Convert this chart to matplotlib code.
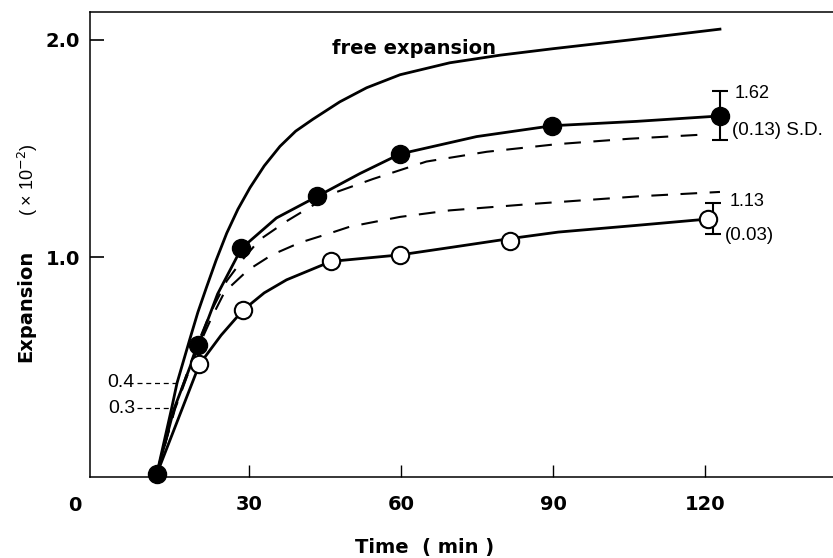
import matplotlib
matplotlib.use('Agg')
import matplotlib.pyplot as plt
import matplotlib.transforms as mtransforms

plt.rcParams['font.family'] = ['Liberation Sans', 'DejaVu Sans']
BOLD = ['DejaVu Sans']

# measured points (time in min, expansion x10^-2)
filled_t = [11.8, 20.0, 28.5, 43.5, 59.8, 89.8, 122.9]
filled_y = [0.0, 0.595, 1.04, 1.28, 1.475, 1.605, 1.65]
open_t = [20.2, 28.8, 46.2, 59.8, 81.5, 120.5]
open_y = [0.505, 0.755, 0.98, 1.01, 1.075, 1.175]

# final S.D. bars (lower, upper)
filled_err = [0.11, 0.115]
open_err = [0.07, 0.075]

# curves
free_t = [11.8, 14.7, 15.8, 18.3, 19.9, 21.6, 23.5, 25.6, 27.8, 30.2, 33.0, 36.1, 39.2, 42.6,
          47.9, 53.2, 59.8, 69.6, 79.5, 90.0, 105.0, 122.9]
free_y = [0.0, 0.30, 0.42, 0.62, 0.745, 0.86, 0.985, 1.11, 1.22, 1.32, 1.42, 1.51, 1.58, 1.635,
          1.715, 1.78, 1.84, 1.895, 1.93, 1.96, 2.0, 2.05]

filled_curve_t = [11.8, 15.2, 20.0, 23.8, 28.5, 35.4, 43.5, 51.9, 59.8, 74.9, 89.8, 106.4, 122.9]
filled_curve_y = [0.0, 0.30, 0.595, 0.83, 1.04, 1.18, 1.28, 1.385, 1.475, 1.555, 1.605, 1.625, 1.65]

open_curve_t = [11.8, 20.2, 24.5, 28.8, 33.0, 37.4, 46.2, 59.8, 70.0, 81.5, 91.0, 106.0, 120.5]
open_curve_y = [0.0, 0.505, 0.64, 0.755, 0.835, 0.895, 0.98, 1.01, 1.045, 1.085, 1.115, 1.145, 1.175]

dash_hi_t = [11.8, 15.3, 19.5, 22.3, 25.6, 28.8, 32.1, 37.4, 42.0, 47.3, 54.5, 65.0, 76.9, 90.7, 105.0, 120.2]
dash_hi_y = [0.0, 0.30, 0.58, 0.74, 0.89, 0.99, 1.08, 1.165, 1.23, 1.30, 1.36, 1.44, 1.485, 1.52, 1.545, 1.565]

dash_lo_t = [11.8, 15.4, 19.5, 22.6, 25.2, 29.8, 34.5, 40.0, 46.0, 49.9, 59.8, 69.6, 86.0, 107.0, 122.9]
dash_lo_y = [0.0, 0.30, 0.56, 0.72, 0.84, 0.94, 1.01, 1.066, 1.11, 1.14, 1.185, 1.215, 1.245, 1.28, 1.30]

x_ticks = [30, 60, 90, 120]
y_ticks = [1.0, 2.0]
guide_levels = [0.42, 0.303]
guide_labels = ['0.4', '0.3']
guide_ends = [15.7, 14.7]

fig = plt.figure(figsize=(8.33, 5.58), dpi=100)
ax = fig.add_axes([0.108, 0.145, 0.892, 0.8335])

ax.plot(free_t, free_y, '-', color='black', lw=2)
ax.plot(filled_curve_t, filled_curve_y, '-', color='black', lw=2)
ax.plot(open_curve_t, open_curve_y, '-', color='black', lw=2)
ax.plot(dash_hi_t, dash_hi_y, color='black', lw=1.5, dashes=(8, 6))
ax.plot(dash_lo_t, dash_lo_y, color='black', lw=1.5, dashes=(8, 6))

ax.errorbar(filled_t[-1], filled_y[-1], yerr=[[filled_err[0]], [filled_err[1]]],
            fmt='none', ecolor='black', elinewidth=1.5, capsize=6, capthick=1.5)
ax.errorbar(open_t[-1] + 1, open_y[-1], yerr=[[open_err[0]], [open_err[1]]],
            fmt='none', ecolor='black', elinewidth=1.5, capsize=6, capthick=1.5)

ax.plot(open_t, open_y, 'o', ms=12.5, mfc='white', mec='black', mew=1.5, zorder=5)
ax.plot(filled_t, filled_y, 'o', ms=13, color='black', clip_on=False, zorder=6)

for lvl, lab, xe in zip(guide_levels, guide_labels, guide_ends):
    ax.plot([7.9, xe], [lvl, lvl], color='black', lw=0.9, dashes=(4, 3))
    ax.text(7.5, lvl, lab, ha='right', va='center', fontsize=14)

ax.text(62.5, 1.96, 'free expansion', ha='center', va='center',
        fontsize=14, fontweight='bold', family=BOLD)

ax.text(125.8, 1.755, '1.62', ha='left', va='center', fontsize=13)
ax.text(125.2, 1.585, '(0.13) S.D.', ha='left', va='center', fontsize=13.5)
ax.text(124.8, 1.255, '1.13', ha='left', va='center', fontsize=13)
ax.text(123.9, 1.10, '(0.03)', ha='left', va='center', fontsize=13.5)

ax.spines['right'].set_visible(False)
for s in ['left', 'top', 'bottom']:
    ax.spines[s].set_linewidth(1.1)

ax.set_xticks(x_ticks)
ax.set_xticklabels([str(t) for t in x_ticks], fontsize=14, fontweight='bold', family=BOLD)
ax.set_yticks(y_ticks)
ax.set_yticklabels(['1.0', '2.0'], fontsize=14, fontweight='bold', family=BOLD)
ax.tick_params(axis='x', direction='in', length=9, width=1, pad=13)
ax.tick_params(axis='y', direction='in', length=10, width=1.2, pad=7)
ax.set_xlim(-1.38, 145.2)
ax.set_ylim(-0.0138, 2.129)

# origin label sits left of the axis line
trans = mtransforms.blended_transform_factory(ax.transData, ax.transAxes)
ax.text(-4.3, -0.062, '0', transform=trans, ha='center', va='center',
        fontsize=14, fontweight='bold', family=BOLD, clip_on=False)

fig.text(425 / 833, 1 - 547 / 558, 'Time  ( min )', ha='center', va='center',
         fontsize=14, fontweight='bold', family=BOLD)
fig.text(26 / 833, 1 - 306 / 558, 'Expansion', rotation=90, ha='center', va='center',
         fontsize=14, fontweight='bold', family=BOLD)
fig.text(28 / 833, 1 - 180 / 558, '( \u00d7 10$^{-2}$)', rotation=90, ha='center', va='center',
         fontsize=13)

fig.savefig('out.png', dpi=100)
